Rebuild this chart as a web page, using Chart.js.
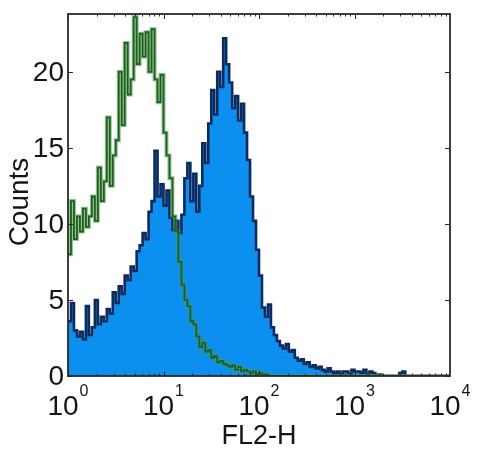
<!DOCTYPE html>
<html>
<head>
<meta charset="utf-8">
<script src="https://cdn.jsdelivr.net/npm/chart.js@4.4.1/dist/chart.umd.min.js"></script>
<style>
  html, body { margin: 0; padding: 0; background: #fff; }
  canvas { display: block; }
</style>
</head>
<body>
<canvas id="chartFL2" width="480" height="454"></canvas>
<script>
// ============= DATA =============
// histogram channels: 32 bins per decade, 10^0 .. 10^4
const BINS_PER_DECADE = 32;

// isotype control (green outline)
const greenCounts = [
  8.0, 11.5, 9.0, 10.5, 9.5, 11.0, 9.8, 10.5,
  11.8, 10.2, 13.7, 11.5, 12.8, 17.0, 12.5, 14.5,
  15.5, 20.0, 16.5, 21.9, 18.5, 19.5, 23.6, 20.5,
  22.5, 21.0, 22.6, 20.0, 22.8, 19.5, 18.0, 19.8,
  16.0, 14.5, 13.0, 10.5, 9.5, 7.5, 6.0, 5.0,
  4.6, 3.6, 3.4, 2.6, 1.9, 2.2, 1.6, 1.7,
  1.2, 1.3, 0.9, 1.0, 0.8, 0.7, 0.6, 0.7,
  0.4, 0.6, 0.3, 0.4, 0.3, 0.2, 0.3, 0.1,
  0.2, 0.1, 0.1, 0, 0, 0, 0, 0,
  0, 0, 0, 0, 0, 0, 0, 0,
  0, 0, 0, 0, 0, 0, 0, 0,
  0, 0, 0, 0, 0, 0, 0, 0,
  0, 0, 0, 0, 0, 0, 0, 0,
  0, 0, 0, 0, 0, 0, 0, 0,
  0, 0, 0, 0, 0, 0, 0, 0,
  0, 0, 0, 0, 0, 0, 0, 0
];

// stained sample (filled blue)
const blueCounts = [
  3.6, 4.8, 3.0, 2.6, 2.9, 2.4, 4.6, 2.7,
  3.2, 5.0, 3.4, 3.9, 3.6, 4.4, 4.1, 5.5,
  4.8, 5.9, 5.4, 6.6, 6.3, 7.2, 6.9, 8.2,
  8.6, 9.4, 9.0, 10.8, 11.5, 14.8, 11.8, 12.6,
  11.2, 12.2, 10.4, 9.6, 10.2, 9.4, 10.6, 13.0,
  14.0, 11.5, 13.3, 10.8, 12.5, 15.3, 14.0, 16.6,
  18.8, 17.2, 20.0, 19.0, 22.2, 20.5, 19.3, 17.6,
  18.4, 16.8, 17.9, 16.0, 14.2, 11.8, 10.2, 8.3,
  6.6, 4.5, 3.9, 4.7, 3.2, 2.7, 2.3, 2.0,
  1.8, 2.1, 1.6, 1.7, 1.2, 1.0, 1.1, 0.8,
  0.9, 0.6, 0.7, 0.5, 0.6, 0.4, 0.3, 0.5,
  0.3, 0.2, 0.3, 0.1, 0.3, 0.3, 0.1, 0.4,
  0.3, 0.3, 0.2, 0.4, 0.1, 0.3, 0.2, 0,
  0.1, 0, 0, 0, 0, 0, 0, 0.2,
  0.3, 0, 0, 0, 0, 0, 0, 0,
  0, 0, 0, 0, 0, 0, 0, 0
];

const xDecades = [0, 1, 2, 3, 4];
const yTicks = [0, 5, 10, 15, 20];
const X_TITLE = 'FL2-H';
const Y_TITLE = 'Counts';

const FONT = '"Liberation Sans", Arial, Helvetica, sans-serif';
const COLORS = {
  fill: '#0c90f0',
  outline: '#0b2a5e',
  green: '#1a611a',
  greenHalo: 'rgba(80,150,80,0.6)',
  frame: '#2a2a2a',
  text: '#151515'
};

// left bin edges, plus closing edge so the last step is drawn
function toSteps(arr) {
  const pts = arr.map((v, i) => ({ x: Math.pow(10, i / BINS_PER_DECADE), y: v }));
  pts.push({ x: Math.pow(10, arr.length / BINS_PER_DECADE), y: arr[arr.length - 1] });
  return pts;
}

// ============= FRAME, TICKS, LABELS =============
const matlabAxes = {
  id: 'matlabAxes',
  afterDatasetsDraw(chart) {
    const { ctx, chartArea: a, scales } = chart;
    const xs = scales.x, ys = scales.y;
    ctx.save();
    ctx.strokeStyle = COLORS.frame;
    ctx.lineWidth = 1;
    ctx.beginPath();
    // y ticks, inside, both sides
    yTicks.forEach(t => {
      const py = Math.round(ys.getPixelForValue(t)) + 0.5;
      ctx.moveTo(a.left, py); ctx.lineTo(a.left + 5, py);
      ctx.moveTo(a.right, py); ctx.lineTo(a.right - 5, py);
    });
    // x ticks, major + minor, top and bottom
    for (let d = 0; d < 4; d++) {
      for (let m = 1; m <= 9; m++) {
        const v = m * Math.pow(10, d);
        const px = Math.round(xs.getPixelForValue(v)) + 0.5;
        const len = m === 1 ? 5 : 2.5;
        ctx.moveTo(px, a.top); ctx.lineTo(px, a.top + len);
        ctx.moveTo(px, a.bottom); ctx.lineTo(px, a.bottom - len);
      }
    }
    ctx.stroke();
    ctx.lineWidth = 1.8;
    ctx.strokeRect(a.left, a.top, a.right - a.left, a.bottom - a.top);
    ctx.restore();
  },
  afterDraw(chart) {
    const { ctx, chartArea: a, scales } = chart;
    const xs = scales.x, ys = scales.y;
    ctx.save();
    ctx.fillStyle = COLORS.text;

    // y tick labels
    ctx.font = '28px ' + FONT;
    ctx.textAlign = 'right';
    ctx.textBaseline = 'middle';
    yTicks.forEach(t => ctx.fillText(String(t), a.left - 4, ys.getPixelForValue(t) + 1));

    // x tick labels 10^k
    ctx.textBaseline = 'alphabetic';
    xDecades.forEach(k => {
      const px = xs.getPixelForValue(Math.pow(10, k));
      ctx.font = '28px ' + FONT;
      const wb = ctx.measureText('10').width;
      ctx.font = '16px ' + FONT;
      const we = ctx.measureText(String(k)).width;
      const left = px - (wb + 1 + we) / 2;
      ctx.textAlign = 'left';
      ctx.font = '28px ' + FONT;
      ctx.fillText('10', left, 415);
      ctx.font = '16px ' + FONT;
      ctx.fillText(String(k), left + wb + 1, 396);
    });

    // axis titles
    ctx.textAlign = 'center';
    ctx.font = '27px ' + FONT;
    ctx.fillText(X_TITLE, xs.getPixelForValue(100), 444);

    ctx.translate(28, 202);
    ctx.rotate(-Math.PI / 2);
    ctx.font = '28px ' + FONT;
    ctx.textBaseline = 'alphabetic';
    ctx.fillText(Y_TITLE, 0, 0);
    ctx.restore();
  }
};

// ============= CHART =============
new Chart(document.getElementById('chartFL2'), {
  type: 'line',
  data: {
    datasets: [
      {
        label: 'Isotype',
        data: toSteps(greenCounts),
        stepped: true,
        borderColor: COLORS.green,
        borderWidth: 1.8,
        pointRadius: 0,
        fill: false,
        order: 0
      },
      {
        label: 'Isotype halo',
        data: toSteps(greenCounts),
        stepped: true,
        borderColor: COLORS.greenHalo,
        borderWidth: 4,
        pointRadius: 0,
        fill: false,
        order: 1
      },
      {
        label: 'Stained',
        data: toSteps(blueCounts),
        stepped: true,
        borderColor: COLORS.outline,
        backgroundColor: COLORS.fill,
        borderWidth: 2.6,
        pointRadius: 0,
        fill: 'origin',
        order: 2
      }
    ]
  },
  options: {
    responsive: false,
    animation: false,
    layout: { padding: { left: 68, right: 30, top: 14, bottom: 78 } },
    plugins: {
      legend: { display: false },
      tooltip: { enabled: false }
    },
    scales: {
      x: { type: 'logarithmic', min: 1, max: 10000, display: false },
      y: { type: 'linear', min: 0, max: 23.8, display: false }
    }
  },
  plugins: [matlabAxes]
});
</script>
</body>
</html>
